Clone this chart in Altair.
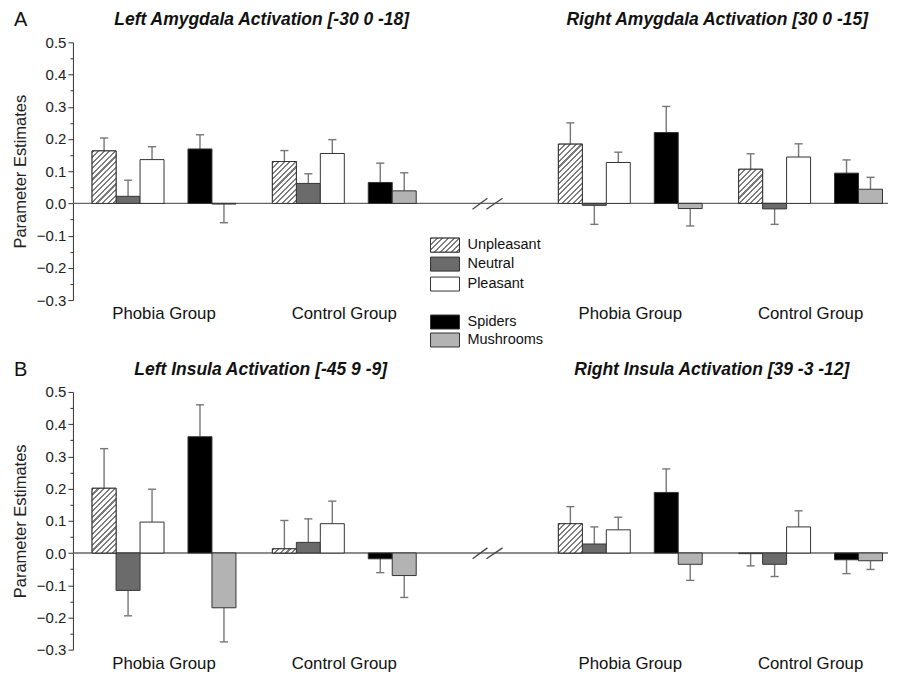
import altair as alt
import pandas as pd

# ---------------- data ----------------
conditions = ["Unpleasant", "Neutral", "Pleasant", "Spiders", "Mushrooms"]
groups = ["Phobia Group", "Control Group"]

# Row A: amygdala
amy_left_phobia = [0.163, 0.022, 0.136, 0.169, -0.002]
amy_left_phobia_err = [0.040, 0.050, 0.040, 0.044, 0.058]
amy_left_control = [0.130, 0.062, 0.155, 0.065, 0.039]
amy_left_control_err = [0.034, 0.030, 0.043, 0.060, 0.056]
amy_right_phobia = [0.184, -0.006, 0.127, 0.220, -0.016]
amy_right_phobia_err = [0.066, 0.059, 0.032, 0.081, 0.054]
amy_right_control = [0.106, -0.017, 0.144, 0.094, 0.044]
amy_right_control_err = [0.048, 0.048, 0.041, 0.041, 0.037]

# Row B: insula
ins_left_phobia = [0.201, -0.116, 0.096, 0.361, -0.170]
ins_left_phobia_err = [0.123, 0.079, 0.102, 0.099, 0.106]
ins_left_control = [0.013, 0.033, 0.091, -0.018, -0.070]
ins_left_control_err = [0.088, 0.073, 0.070, 0.043, 0.068]
ins_right_phobia = [0.091, 0.028, 0.072, 0.188, -0.035]
ins_right_phobia_err = [0.053, 0.053, 0.039, 0.073, 0.050]
ins_right_control = [-0.002, -0.035, 0.081, -0.021, -0.024]
ins_right_control_err = [0.038, 0.038, 0.050, 0.043, 0.027]

titles_A = ["Left Amygdala Activation [-30 0 -18]", "Right Amygdala Activation [30 0 -15]"]
titles_B = ["Left Insula Activation [-45 9 -9]", "Right Insula Activation [39 -3 -12]"]
y_ticks = [-0.3, -0.25, -0.2, -0.15, -0.1, -0.05, 0.0, 0.05, 0.1, 0.15,
           0.2, 0.25, 0.3, 0.35, 0.4, 0.45, 0.5]

# ---------------- layout / style ----------------
W, H = 816, 258
XMAX = 34.0                     # x domain in bar-width units (24 px each)
PX_X = W / XMAX
PX_Y = H / 0.8
SLOT = [0, 1, 2, 4, 5]
BASE, STRIDE, HEMI = 0.8, 7.52, 19.45
fills = ["#ffffff", "#6b6b6b", "#ffffff", "#000000", "#b3b3b3"]
BAR_STROKE = "#333333"
ERR_COLOR = "#777777"
FONT = "Liberation Sans"

xs = alt.Scale(domain=[0, XMAX], nice=False, zero=False)
ys = alt.Scale(domain=[-0.3, 0.5], nice=False, zero=False)

series = {
    "A": [(amy_left_phobia, amy_left_phobia_err), (amy_left_control, amy_left_control_err),
          (amy_right_phobia, amy_right_phobia_err), (amy_right_control, amy_right_control_err)],
    "B": [(ins_left_phobia, ins_left_phobia_err), (ins_left_control, ins_left_control_err),
          (ins_right_phobia, ins_right_phobia_err), (ins_right_control, ins_right_control_err)],
}

recs = []
for row, lst in series.items():
    for k, (vals, errs) in enumerate(lst):
        hemi, g = divmod(k, 2)
        for c, (v, e) in enumerate(zip(vals, errs)):
            x0 = BASE + hemi * HEMI + g * STRIDE + SLOT[c]
            sign = 1 if v > 0 else -1
            end = v + sign * e
            xc = x0 + 0.5
            recs.append(dict(row=row, hemi=hemi, group=groups[g], cond=conditions[c],
                             value=v, err=e, x0=x0, x1=x0 + 1, xc=xc, end=end,
                             capl=xc - 0.17, capr=xc + 0.17,
                             bid=f"{row}{k}{c}"))
df = pd.DataFrame(recs)


def hatch_fill(w, h, period=5.6, frac=0.38, line="#7d7d7d", bg="#ffffff"):
    total = w + h
    n = total / period
    s = total * w / (w * w + h * h)
    stops = []
    k = 0
    while k / n < 1:
        a = round(k / n, 5)
        b = round(min((k + frac) / n, 1), 5)
        c = round(min((k + 1) / n, 1), 5)
        stops += [{"offset": a, "color": line}, {"offset": b, "color": line},
                  {"offset": b, "color": bg}, {"offset": c, "color": bg}]
        k += 1
    return {"gradient": "linear", "x1": 0, "y1": 0, "x2": s, "y2": s * h / w, "stops": stops}


yaxis = alt.Axis(
    values=y_ticks,
    labelExpr="abs(datum.value*10 - round(datum.value*10)) < 0.001 ? format(datum.value, '.1f') : ''",
    tickSize={"condition": {"test": "abs(datum.value*10 - round(datum.value*10)) < 0.001", "value": 5}, "value": 3},
    grid=False, domainColor="#333333", tickColor="#333333", labelColor="#222222",
    labelFontSize=15, labelFont=FONT, labelPadding=2,
    title="Parameter Estimates", titleFontSize=16.5, titleFont=FONT, titleFontWeight="normal",
    titleColor="#222222", titlePadding=8,
)


def X(f):
    return alt.X(f, type="quantitative", scale=xs, axis=None)


def Y(f):
    return alt.Y(f, type="quantitative", scale=ys, axis=yaxis)


def make_row(key, titles, title_x, letter, legend=False):
    d = df[df.row == key]
    base = alt.Chart(d)
    layers = []

    zero = alt.Chart(pd.DataFrame({"z": [0.0]})).mark_rule(color="#666666", strokeWidth=1.3).encode(y=Y("z"))
    layers.append(zero)

    brk = pd.DataFrame({"bx0": [16.67, 17.25], "bx1": [17.29, 17.92],
                        "by0": [-0.018, -0.018], "by1": [0.016, 0.016]})
    layers.append(alt.Chart(brk).mark_rule(color="#444444", strokeWidth=1.3).encode(
        x=X("bx0"), x2="bx1", y=Y("by0"), y2="by1"))

    layers.append(base.mark_rule(color=ERR_COLOR, strokeWidth=1.4).encode(
        x=X("xc"), y=Y("value"), y2="end"))
    layers.append(base.mark_rule(color=ERR_COLOR, strokeWidth=1.4).encode(
        x=X("capl"), x2="capr", y=Y("end")))

    layers.append(base.mark_rect(stroke=BAR_STROKE, strokeWidth=1).encode(
        x=X("x0"), x2="x1", y=Y("value"), y2=alt.datum(0),
        fill=alt.Fill("cond:N", scale=alt.Scale(domain=conditions, range=fills), legend=None)))

    for _, r in d[d.cond == "Unpleasant"].iterrows():
        h = abs(r.value) * PX_Y
        if h < 1.5:
            continue
        layers.append(base.transform_filter(alt.datum.bid == r.bid).mark_rect(
            fill=hatch_fill(PX_X, h), stroke=BAR_STROKE, strokeWidth=1).encode(
            x=X("x0"), x2="x1", y=Y("value"), y2=alt.datum(0)))

    tdf = pd.DataFrame({"t": titles, "tx": title_x})
    layers.append(alt.Chart(tdf).mark_text(font=FONT, fontSize=17.5, fontWeight="bold",
                                           fontStyle="italic", color="#111111", baseline="middle").encode(
        x=X("tx"), y=alt.value(-22), text="t:N"))

    gdf = d.groupby(["hemi", "group"], as_index=False)["x0"].min()
    gdf["gx"] = gdf["x0"] + 3
    layers.append(alt.Chart(gdf).mark_text(font=FONT, fontSize=16.8, color="#111111", baseline="middle").encode(
        x=X("gx"), y=alt.value(H + 14), text="group:N"))

    layers.append(alt.Chart(pd.DataFrame({"l": [letter]})).mark_text(
        font=FONT, fontSize=20, color="#111111", align="left", baseline="middle").encode(
        x=alt.value(-59), y=alt.value(-22), text="l:N"))

    if legend:
        leg_px = [203, 222, 242, 280, 298]
        ldf = pd.DataFrame({"label": conditions,
                            "ly0": [0.5 - (p - 7) / PX_Y for p in leg_px],
                            "ly1": [0.5 - (p + 7) / PX_Y for p in leg_px],
                            "lyc": [0.5 - p / PX_Y for p in leg_px]})
        ldf["lx0"] = 358 / PX_X
        ldf["lx1"] = 387 / PX_X
        ldf["tx"] = 395 / PX_X
        lb = alt.Chart(ldf)
        layers.append(lb.mark_rect(stroke=BAR_STROKE, strokeWidth=1).encode(
            x=X("lx0"), x2="lx1", y=Y("ly0"), y2="ly1",
            fill=alt.Fill("label:N", scale=alt.Scale(domain=conditions, range=fills), legend=None)))
        layers.append(lb.transform_filter(alt.datum.label == "Unpleasant").mark_rect(
            fill=hatch_fill(29, 14), stroke=BAR_STROKE, strokeWidth=1).encode(
            x=X("lx0"), x2="lx1", y=Y("ly0"), y2="ly1"))
        layers.append(lb.mark_text(font=FONT, fontSize=14.5, color="#111111", align="left",
                                   baseline="middle").encode(x=X("tx"), y=Y("lyc"), text="label:N"))

    return alt.layer(*layers).properties(width=W, height=H)


rowA = make_row("A", titles_A, [7.875, 26.875], "A", legend=True)
rowB = make_row("B", titles_B, [7.83, 26.65], "B")

chart = alt.vconcat(rowA, rowB, spacing=92, bounds="flush").properties(
    padding={"left": 4, "top": 2, "right": 0, "bottom": 2}
).configure(font=FONT).configure_view(strokeWidth=0, stroke="transparent")

chart.save("out.html", embed_options={"renderer": "svg", "actions": False})
